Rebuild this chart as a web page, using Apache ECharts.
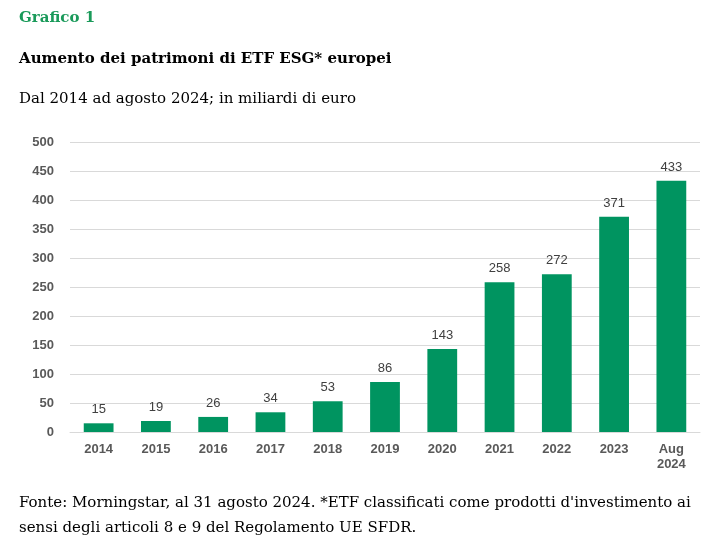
<!DOCTYPE html>
<html><head><meta charset="utf-8">
<script src="https://cdn.jsdelivr.net/npm/echarts@6/dist/echarts.min.js"></script>
<style>body{margin:0;background:#fff}#main{width:725px;height:540px}</style>
</head><body><div id="main"></div>
<script>
var categories = ['2014','2015','2016','2017','2018','2019','2020','2021','2022','2023','Aug\n2024'];
var values = [15,19,26,34,53,86,143,258,272,371,433];

var serif = '"DejaVu Serif", "Liberation Serif", serif';
var chart = echarts.init(document.getElementById('main'));
chart.setOption({
    title: [
        { text: 'Grafico 1', left: 14, top: 6, textStyle: { fontFamily: serif, fontSize: 15, fontWeight: 'bold', color: '#1a9a5a' } },
        { text: 'Aumento dei patrimoni di ETF ESG* europei', left: 14, top: 47, textStyle: { fontFamily: serif, fontSize: 15, fontWeight: 'bold', color: '#000' } },
        { text: 'Dal 2014 ad agosto 2024; in miliardi di euro', left: 14, top: 87, textStyle: { fontFamily: serif, fontSize: 15, fontWeight: 'normal', color: '#000' } },
        { text: 'Fonte: Morningstar, al 31 agosto 2024. *ETF classificati come prodotti d\'investimento ai\nsensi degli articoli 8 e 9 del Regolamento UE SFDR.', left: 14, top: 486,
          textStyle: { fontFamily: serif, fontSize: 15, fontWeight: 'normal', color: '#000', lineHeight: 25 } }
    ],
    grid: { left: 70, right: 25, top: 142, bottom: 108 },
    xAxis: {
        type: 'category', data: categories,
        axisTick: { show: false },
        axisLine: { lineStyle: { color: '#d9d9d9' } },
        axisLabel: { color: '#595959', fontSize: 13, fontWeight: 'bold', fontFamily: 'Arial, "Liberation Sans", sans-serif', margin: 10, lineHeight: 15 }
    },
    yAxis: {
        type: 'value', min: 0, max: 500, interval: 50,
        axisLabel: { color: '#595959', fontSize: 13, fontWeight: 'bold', fontFamily: 'Arial, "Liberation Sans", sans-serif', margin: 16 },
        splitLine: { lineStyle: { color: '#d9d9d9' } }
    },
    series: [{
        type: 'bar', data: values, barWidth: '52%',
        itemStyle: { color: '#009460' },
        label: { show: true, position: 'top', distance: 7, color: '#404040', fontSize: 13, fontFamily: 'Arial, "Liberation Sans", sans-serif' }
    }]
});
</script></body></html>
